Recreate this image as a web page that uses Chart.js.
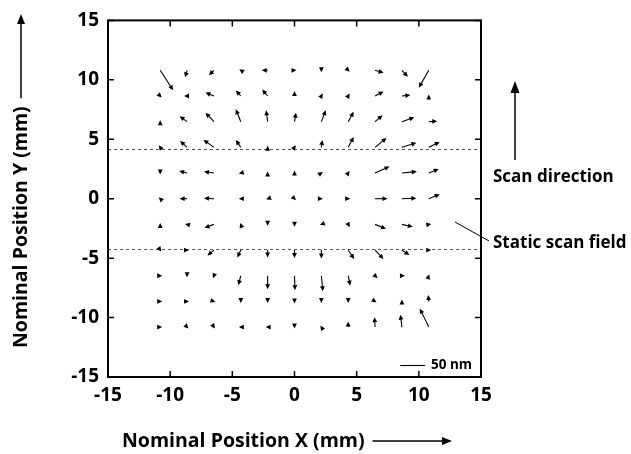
<!DOCTYPE html>
<html>
<head>
<meta charset="utf-8">
<script src="https://cdn.jsdelivr.net/npm/chart.js@4.4.1/dist/chart.umd.min.js"></script>
<style>
  html, body { margin: 0; padding: 0; background: #fff; }
</style>
</head>
<body>
<canvas id="quiverChart" width="631" height="454"></canvas>
<script>
// grid of nominal positions (mm)
const gridX = [-10.8, -8.64, -6.48, -4.32, -2.16, 0, 2.16, 4.32, 6.48, 8.64, 10.8];
const gridY = [10.8, 8.64, 6.48, 4.32, 2.16, 0, -2.16, -4.32, -6.48, -8.64, -10.8];

// measured displacement (nm), one row per gridY, one column per gridX
const dxNm = [
  [26, -4, -10, -3, -12, 4, 0, 3, 17, 12, -20],
  [3, -6, -17, -10, -11, 0, 3, 3, 17, 17, 0],
  [0, -15, -17, -10, -3, 3, 9, 11, 15, 25, 17],
  [-3, -14, -21, -10, 0, 3, 2, 11, 23, 29, 22],
  [0, -16, -20, -4, 0, 0, 3, 3, 29, 30, 20],
  [-3, -15, -20, -4, -3, 3, 3, 4, 25, 29, 22],
  [0, -4, -19, -1, 0, 0, -3, 3, 22, 22, 5],
  [2, 4, -13, -7, 0, 0, 0, 12, 17, 15, 5],
  [4, 0, -2, -5, 0, 1, 3, 4, 5, 6, 1],
  [4, 4, 3, 0, 0, 0, 0, 0, 3, 0, -1],
  [4, 3, 2, -4, -4, 0, -2, 0, -1, -3, -18]
];
const dyNm = [
  [-40, -14, -10, 2, 0, 0, -4, -3, -5, -13, -35],
  [-3, 0, 7, 11, 13, 10, 5, 5, 9, 2, 3],
  [3, 11, 18, 25, 23, 18, 23, 20, 13, 9, 1],
  [4, 13, 15, 15, 3, 4, 15, 21, 19, 9, 11],
  [-3, 4, 3, -1, 3, 5, 2, 4, 13, 3, 8],
  [3, 0, 1, 0, -1, -3, 0, 0, 0, 1, 9],
  [3, 1, -7, 3, -3, -5, -1, -6, -9, -5, 1],
  [-3, 0, -11, -15, -15, -16, -17, -18, -18, -10, 0],
  [0, -3, -5, -19, -27, -29, -31, -20, -5, 0, 3],
  [0, 0, -1, -3, -3, -4, -3, -3, -2, 4, 13],
  [0, -3, -3, 0, 0, -3, 3, 11, 20, 25, 37]
];

const axisTicks = [-15, -10, -5, 0, 5, 10, 15];
const fieldEdges = [4.2, -4.2];   // static scan field limits (mm)
const scaleBarNm = 50;
const scaleBarMm = 2;             // 50 nm drawn as 2 mm on the plot
const scaleBarAt = [8.5, -14];    // x start, y (mm)

const FONT = "'Open Sans', 'DejaVu Sans', sans-serif";

// build points for the library
const points = [];
gridY.forEach((y, r) => {
  gridX.forEach((x, c) => {
    points.push({ x: x, y: y, dx: dxNm[r][c], dy: dyNm[r][c] });
  });
});

function arrow(ctx, x0, y0, x1, y1, headLen, headW) {
  const ang = Math.atan2(y1 - y0, x1 - x0);
  ctx.beginPath();
  ctx.moveTo(x0, y0);
  ctx.lineTo(x1 - Math.cos(ang) * headLen * 0.6, y1 - Math.sin(ang) * headLen * 0.6);
  ctx.stroke();
  ctx.beginPath();
  ctx.moveTo(x1, y1);
  ctx.lineTo(x1 - Math.cos(ang) * headLen + Math.sin(ang) * headW,
             y1 - Math.sin(ang) * headLen - Math.cos(ang) * headW);
  ctx.lineTo(x1 - Math.cos(ang) * headLen - Math.sin(ang) * headW,
             y1 - Math.sin(ang) * headLen + Math.cos(ang) * headW);
  ctx.closePath();
  ctx.fill();
}

const quiverPlugin = {
  id: 'quiver',
  afterDatasetsDraw(chart) {
    const ctx = chart.ctx;
    const xs = chart.scales.x, ys = chart.scales.y;
    const area = chart.chartArea;
    const pxPerNm = (xs.getPixelForValue(scaleBarMm) - xs.getPixelForValue(0)) / scaleBarNm;

    ctx.save();
    // static scan field edges
    ctx.strokeStyle = '#555';
    ctx.lineWidth = 1;
    ctx.setLineDash([3, 3]);
    fieldEdges.forEach(v => {
      const py = Math.round(ys.getPixelForValue(v)) + 0.5;
      ctx.beginPath();
      ctx.moveTo(area.left, py);
      ctx.lineTo(area.right, py);
      ctx.stroke();
    });
    ctx.setLineDash([]);

    // arrows
    ctx.strokeStyle = '#000';
    ctx.fillStyle = '#000';
    ctx.lineWidth = 1.1;
    const meta = chart.getDatasetMeta(0);
    meta.data.forEach((el, i) => {
      const p = points[i];
      const x1 = el.x + p.dx * pxPerNm;
      const y1 = el.y - p.dy * pxPerNm;
      arrow(ctx, el.x, el.y, x1, y1, 5, 2.4);
    });

    // scale bar
    const bx0 = xs.getPixelForValue(scaleBarAt[0]);
    const bx1 = xs.getPixelForValue(scaleBarAt[0] + scaleBarMm);
    const by = Math.round(ys.getPixelForValue(scaleBarAt[1])) + 0.5;
    ctx.beginPath();
    ctx.moveTo(bx0, by);
    ctx.lineTo(bx1, by);
    ctx.stroke();
    ctx.font = 'bold 13.5px ' + FONT;
    ctx.textBaseline = 'middle';
    ctx.textAlign = 'left';
    ctx.fillText(scaleBarNm + ' nm', bx1 + 6, by);
    ctx.restore();
  },
  afterDraw(chart) {
    const ctx = chart.ctx;
    const xs = chart.scales.x, ys = chart.scales.y;
    const a = chart.chartArea;
    ctx.save();
    ctx.strokeStyle = '#000';
    ctx.fillStyle = '#000';

    // inward ticks on all four sides
    ctx.lineWidth = 1.5;
    axisTicks.forEach(t => {
      const px = xs.getPixelForValue(t);
      const py = ys.getPixelForValue(t);
      ctx.beginPath();
      ctx.moveTo(px, a.bottom); ctx.lineTo(px, a.bottom - 6);
      ctx.moveTo(px, a.top); ctx.lineTo(px, a.top + 6);
      ctx.moveTo(a.left, py); ctx.lineTo(a.left + 6, py);
      ctx.moveTo(a.right, py); ctx.lineTo(a.right - 6, py);
      ctx.stroke();
    });
    // frame
    ctx.lineWidth = 2;
    ctx.strokeRect(a.left, a.top, a.right - a.left, a.bottom - a.top);

    // axis titles with direction arrows
    ctx.lineWidth = 1.5;
    ctx.font = 'bold 19.5px ' + FONT;
    ctx.textBaseline = 'middle';
    ctx.textAlign = 'left';
    const xTitle = 'Nominal Position X (mm)';
    const xtX = 122, xtY = 441;
    ctx.fillText(xTitle, xtX, xtY);
    const xw = ctx.measureText(xTitle).width;
    arrow(ctx, xtX + xw + 8, xtY, 452, xtY, 10, 4);

    ctx.save();
    ctx.translate(21, 348);
    ctx.rotate(-Math.PI / 2);
    const yTitle = 'Nominal Position Y (mm)';
    ctx.fillText(yTitle, 0, 0);
    const yw = ctx.measureText(yTitle).width;
    arrow(ctx, yw + 8, 0, 334, 0, 10, 4);
    ctx.restore();

    // annotations on the right
    ctx.font = 'bold 17px ' + FONT;
    arrow(ctx, 515, 160, 515, 81, 12, 4.5);
    ctx.fillText('Scan direction', 493, 177);
    ctx.lineWidth = 1;
    ctx.beginPath();
    ctx.moveTo(455, 222);
    ctx.lineTo(489, 241);
    ctx.stroke();
    ctx.fillText('Static scan field', 493, 243);
    ctx.restore();
  }
};

const tickFont = { family: FONT, size: 19, weight: 'bold' };

new Chart(document.getElementById('quiverChart'), {
  type: 'scatter',
  data: {
    datasets: [{
      data: points,
      pointRadius: 0,
      pointHoverRadius: 0
    }]
  },
  options: {
    responsive: false,
    devicePixelRatio: 1,
    animation: false,
    events: [],
    layout: { padding: { top: 20, right: 150, left: 0, bottom: 0 } },
    plugins: { legend: { display: false }, tooltip: { enabled: false } },
    scales: {
      x: {
        type: 'linear', min: -15, max: 15,
        afterBuildTicks: s => { s.ticks = axisTicks.map(v => ({ value: v })); },
        afterFit: s => { s.height = 77; },
        grid: { display: false, drawTicks: false },
        border: { display: false },
        ticks: { font: tickFont, color: '#000', padding: 7, maxRotation: 0 }
      },
      y: {
        type: 'linear', min: -15, max: 15,
        afterBuildTicks: s => { s.ticks = axisTicks.map(v => ({ value: v })); },
        afterFit: s => { s.width = 108; },
        grid: { display: false, drawTicks: false },
        border: { display: false },
        ticks: { font: tickFont, color: '#000', padding: 9 }
      }
    }
  },
  plugins: [quiverPlugin]
});
</script>
</body>
</html>
